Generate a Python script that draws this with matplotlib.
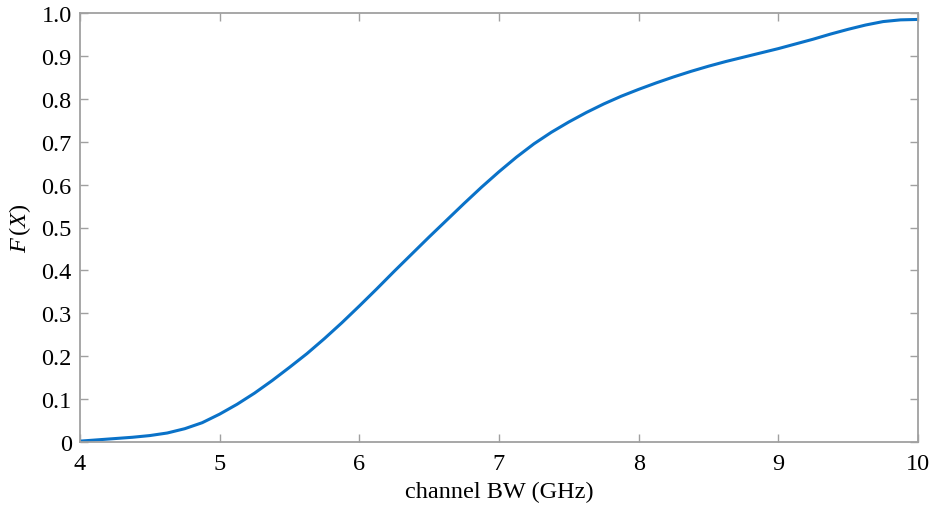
import numpy as np
import matplotlib
matplotlib.use('Agg')
import matplotlib.pyplot as plt

plt.rcParams['font.family'] = ['Liberation Serif', 'DejaVu Serif']
plt.rcParams['mathtext.fontset'] = 'custom'
plt.rcParams['mathtext.rm'] = 'Liberation Serif'
plt.rcParams['mathtext.it'] = 'Liberation Serif:italic'

# channel bandwidth (GHz) vs CDF
bw = [4.0, 4.125, 4.25, 4.375, 4.5, 4.625, 4.75, 4.875,
      5.0, 5.125, 5.25, 5.375, 5.5, 5.625, 5.75, 5.875,
      6.0, 6.125, 6.25, 6.375, 6.5, 6.625, 6.75, 6.875,
      7.0, 7.125, 7.25, 7.375, 7.5, 7.625, 7.75, 7.875,
      8.0, 8.125, 8.25, 8.375, 8.5, 8.625, 8.75, 8.875,
      9.0, 9.125, 9.25, 9.375, 9.5, 9.625, 9.75, 9.875, 10.0]
cdf = [0.002, 0.005, 0.008, 0.011, 0.015, 0.021, 0.031, 0.045,
       0.065, 0.088, 0.114, 0.143, 0.174, 0.206, 0.241, 0.278,
       0.317, 0.357, 0.398, 0.438, 0.478, 0.517, 0.556, 0.594,
       0.630, 0.664, 0.695, 0.722, 0.746, 0.768, 0.788, 0.806,
       0.822, 0.837, 0.851, 0.864, 0.876, 0.887, 0.897, 0.907,
       0.917, 0.928, 0.939, 0.951, 0.962, 0.972, 0.980, 0.984, 0.985]

xticks = [4, 5, 6, 7, 8, 9, 10]
yticks = [0, 0.1, 0.2, 0.3, 0.4, 0.5, 0.6, 0.7, 0.8, 0.9, 1.0]
ylabels = ['0', '0.1', '0.2', '0.3', '0.4', '0.5', '0.6', '0.7', '0.8', '0.9', '1.0']

fig = plt.figure(figsize=(9.33, 5.06), dpi=100)
ax = fig.add_axes([80 / 933, 63 / 506, 838 / 933, 429 / 506])

ax.plot(bw, cdf, color='#0a72c8', lw=2.2, solid_capstyle='round',
        solid_joinstyle='round')

ax.set_xlim(4, 10)
ax.set_ylim(0, 1.0)
ax.set_xticks(xticks)
ax.set_xticklabels([str(t) for t in xticks])
ax.set_yticks(yticks)
ax.set_yticklabels(ylabels)

for s in ax.spines.values():
    s.set_color('#a0a0a0')
    s.set_linewidth(1.3)
ax.tick_params(direction='in', length=6, width=1.0, color='#a0a0a0',
               top=True, right=True, labelsize=17.5)
ax.tick_params(axis='x', pad=8)
ax.tick_params(axis='y', pad=6)

ax.set_xlabel('channel BW (GHz)', fontsize=17.5, labelpad=5)
ax.set_ylabel(r'$F\,(X)$', fontsize=17.5, labelpad=6)

fig.savefig('out.png', dpi=100)
